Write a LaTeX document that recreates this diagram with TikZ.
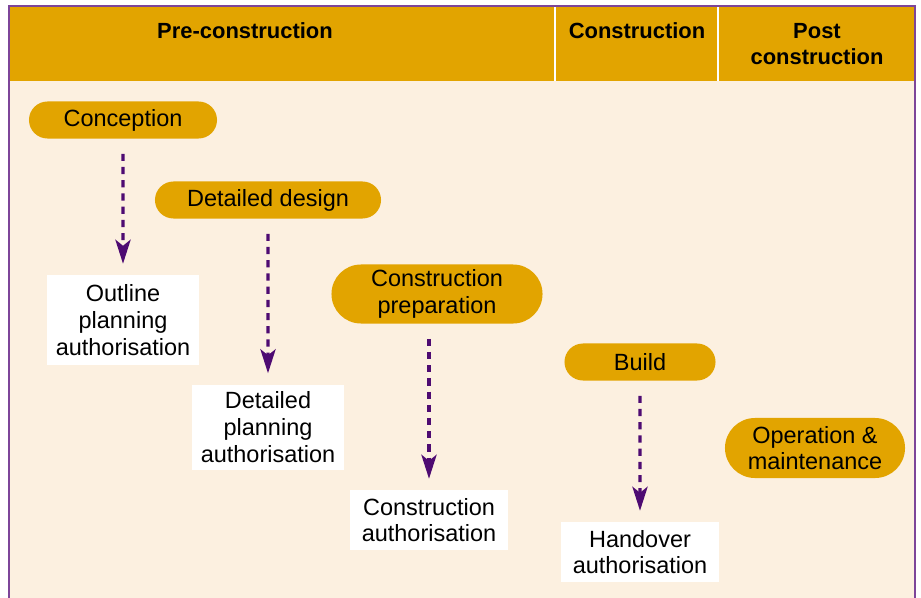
\documentclass[tikz,border=0pt]{standalone}
\usepackage{fontspec}
\setmainfont{Liberation Sans}
\usetikzlibrary{shapes.misc,arrows.meta}
\definecolor{gold}{HTML}{E2A400}
\definecolor{cream}{HTML}{FCF0E0}
\definecolor{plum}{HTML}{4E0B72}
\definecolor{framepurple}{HTML}{7D4599}

\begin{document}
\begin{tikzpicture}[x=0.025cm, y=0.025cm, node distance=5cm,
    stage/.style={rounded rectangle, fill=gold, inner sep=0pt, minimum height=0.925cm, font=\fontsize{16.7}{19}\selectfont, align=center},
    auth/.style={rectangle, fill=white, inner sep=0pt, font=\fontsize{16.7}{19}\selectfont, align=center},
    head/.style={font=\bfseries\fontsize{15.6}{18.5}\selectfont, align=center},
    flow/.style={draw=plum, line width=2.3pt, dash pattern=on 0.18cm off 0.15cm, -{Stealth[length=0.6cm,width=0.38cm,inset=0.15cm,fill=plum]}, shorten <=0.375cm, shorten >=0.275cm}]
    \useasboundingbox (0,0) rectangle (921,-598);
    % background and header band
    \fill[cream] (9,-6) rectangle (915,-598);
    \fill[gold] (10,-7) rectangle (914,-81);
    \draw[white, line width=0.05cm] (555,-7) -- (555,-81);
    \draw[white, line width=0.05cm] (718,-7) -- (718,-81);
    \draw[framepurple, line width=0.05cm] (9,-598) -- (9,-6) -- (915,-6) -- (915,-598);
    \node[head] (hpre) at (245,-31) {Pre-construction};
    \node[head] (hcon) at (637,-31) {Construction};
    \node[head] (hpost) at (817,-44) {Post\\construction};
    % stages
    \node[stage, minimum width=4.7cm] (concep) at (123,-120) {Conception};
    \node[stage, minimum width=5.65cm] (design) at (268,-200) {Detailed design};
    \node[stage, minimum width=5.275cm, minimum height=1.475cm] (prep) at (437,-294) {Construction\\preparation};
    \node[stage, minimum width=3.775cm] (build) at (640,-362) {Build};
    \node[stage, minimum width=4.5cm, minimum height=1.5cm] (operate) at (815,-448) {Operation \&\\maintenance};
    % authorisations
    \node[auth, minimum width=3.775cm, minimum height=2.25cm, below of=concep] (outline) {Outline\\planning\\authorisation};
    \node[auth, minimum width=3.775cm, minimum height=2.125cm, below of=design, yshift=-0.675cm] (dplan) {Detailed\\planning\\authorisation};
    \node[auth, minimum width=3.95cm, minimum height=1.5cm, below of=prep, xshift=-0.2cm, yshift=-0.65cm] (cauth) {Construction\\authorisation};
    \node[auth, minimum width=3.95cm, minimum height=1.5cm, below of=build, yshift=0.25cm] (hauth) {Handover\\authorisation};
    \draw[flow] (concep) -- (outline);
    \draw[flow] (design) -- (dplan);
    \draw[flow] (cauth |- prep.south) -- (cauth.north);
    \draw[flow] (build) -- (hauth);
\end{tikzpicture}
\end{document}
